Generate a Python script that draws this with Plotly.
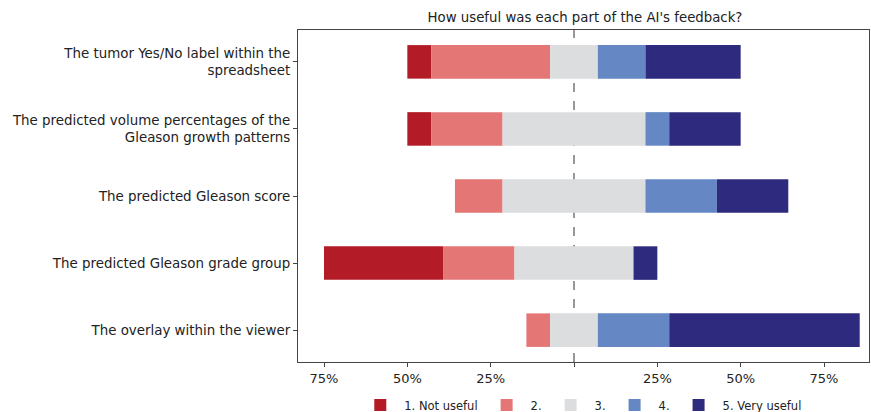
import plotly.graph_objects as go

categories = [
    "The tumor Yes/No label within the<br>spreadsheet",
    "The predicted volume percentages of the<br>Gleason growth patterns",
    "The predicted Gleason score",
    "The predicted Gleason grade group",
    "The overlay within the viewer",
]
levels = ["1. Not useful", "2.", "3.", "4.", "5. Very useful"]
n_resp = 14
counts = {
    "1. Not useful": [1, 1, 0, 5, 0],
    "2.": [5, 3, 2, 3, 1],
    "3.": [2, 6, 6, 5, 2],
    "4.": [2, 1, 3, 0, 3],
    "5. Very useful": [4, 3, 3, 1, 8],
}
colors = ["#b31b27", "#e47676", "#dcdddf", "#6587c4", "#2e2a7d"]
tick_vals = [-75, -50, -25, 0, 25, 50, 75]
tick_text = ["75%", "50%", "25%", "", "25%", "50%", "75%"]

pct = {k: [c / n_resp * 100 for c in v] for k, v in counts.items()}
starts = [-(pct[levels[0]][i] + pct[levels[1]][i] + pct[levels[2]][i] / 2) for i in range(len(categories))]

fig = go.Figure()
cum = list(starts)
ys = list(range(len(categories)))
for lvl, col in zip(levels, colors):
    fig.add_trace(go.Bar(
        y=ys, x=pct[lvl], base=list(cum), orientation="h", name=lvl,
        marker=dict(color=col, line=dict(width=0)), width=0.5,
    ))
    cum = [c + p for c, p in zip(cum, pct[lvl])]

fig.add_shape(type="line", x0=0, x1=0, xref="x", y0=0, y1=1, yref="paper",
              line=dict(color="#777777", width=1.5, dash="dash"), layer="below")

font = "DejaVu Sans, sans-serif"
fig.update_layout(
    width=871, height=412,
    margin=dict(l=298, r=2, t=30, b=50, autoexpand=False),
    barmode="overlay",
    plot_bgcolor="white", paper_bgcolor="white",
    font=dict(family=font, size=13, color="#222222"),
    title=dict(text="How useful was each part of the AI's feedback?", x=585 / 871, xanchor="center",
               y=1 - 17 / 412, yanchor="middle", font=dict(size=13.3, family=font, color="#222222")),
    xaxis=dict(range=[-82.8, 88.5], tickvals=tick_vals, ticktext=tick_text, showgrid=False,
               zeroline=False, showline=True, mirror=True, linecolor="#444444", linewidth=1,
               ticks="outside", ticklen=4, tickcolor="#444444", tickfont=dict(size=13)),
    yaxis=dict(range=[4.475, -0.475], tickvals=ys, ticktext=categories, showgrid=False,
               zeroline=False, showline=True, mirror=True, linecolor="#444444", linewidth=1,
               ticks="outside", ticklen=4, tickcolor="#444444", tickfont=dict(size=13.4)),
    legend=dict(orientation="h", x=0.497, xanchor="center", yref="container", y=1 - 405 / 412,
                yanchor="middle", font=dict(size=11.5), traceorder="normal", itemwidth=38),
    showlegend=True,
)

fig.write_html("out.html", config={"displayModeBar": False},
               post_script="document.body.style.margin='0px';document.body.style.overflow='hidden';")
